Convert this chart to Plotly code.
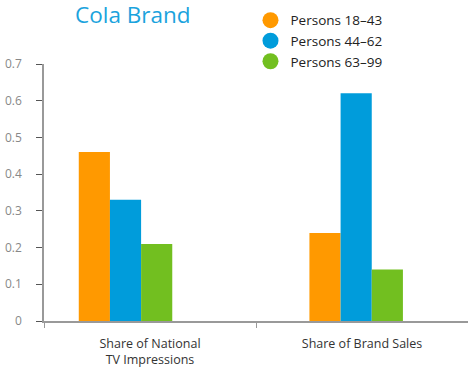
import plotly.graph_objects as go

categories = ["Share of National<br>TV Impressions", "Share of Brand Sales"]
series_names = ["Persons 18\u201343", "Persons 44\u201362", "Persons 63\u201399"]
values_18_43 = [0.46, 0.24]
values_44_62 = [0.33, 0.62]
values_63_99 = [0.21, 0.14]
y_ticks = [0, 0.1, 0.2, 0.3, 0.4, 0.5, 0.6, 0.7]
y_tick_labels = ["0", "0.1", "0.2", "0.3", "0.4", "0.5", "0.6", "0.7"]

colors = ["#FF9900", "#009CDB", "#72BF20"]
series = [values_18_43, values_44_62, values_63_99]

BAR_W = 0.147
GROUP_SHIFT = [-0.336, -0.248]  # left edge of each group relative to category

fig = go.Figure()
for k, (name, vals, col) in enumerate(zip(series_names, series, colors)):
    fig.add_trace(go.Bar(
        x=categories, y=vals, name=name, marker_color=col,
        marker_line_width=0, width=BAR_W,
        offset=[s + k * BAR_W for s in GROUP_SHIFT],
        showlegend=False,
    ))
    fig.add_trace(go.Scatter(
        x=[None], y=[None], mode="markers", name=name,
        marker=dict(symbol="circle", size=16, color=col),
    ))

fig.update_layout(
    width=468, height=371,
    margin=dict(l=44, r=0, t=64, b=50),
    paper_bgcolor="white", plot_bgcolor="white",
    barmode="overlay",
    font=dict(family="Open Sans, Noto Sans, sans-serif", size=11, color="#333"),
    title=dict(text="Cola Brand", x=75 / 468, xanchor="left", xref="container",
               y=1 - 15 / 371, yanchor="middle", yref="container",
               font=dict(size=22.5, color="#1BA3DD")),
    legend=dict(x=0.487, xanchor="left", y=1.23, yanchor="top",
                font=dict(size=13.5, color="#222"), tracegroupgap=0,
                bgcolor="rgba(0,0,0,0)", itemwidth=30),
    xaxis=dict(type="category", range=[-0.5, 1.5], showline=True,
               linecolor="#999", linewidth=1.5, ticks="outside", ticklen=5,
               tickcolor="#999", tickson="boundaries", showgrid=False,
               ticklabelstandoff=10,
               tickfont=dict(size=12.5, color="#333")),
    yaxis=dict(range=[0, 0.7], tickvals=y_ticks, ticktext=y_tick_labels,
               showline=True, linecolor="#999", linewidth=1.5, ticks="outside",
               ticklen=6, tickcolor="#555", showgrid=False, zeroline=False,
               ticklabelstandoff=12,
               tickfont=dict(size=12, color="#888")),
)

fig.write_html("out.html")
